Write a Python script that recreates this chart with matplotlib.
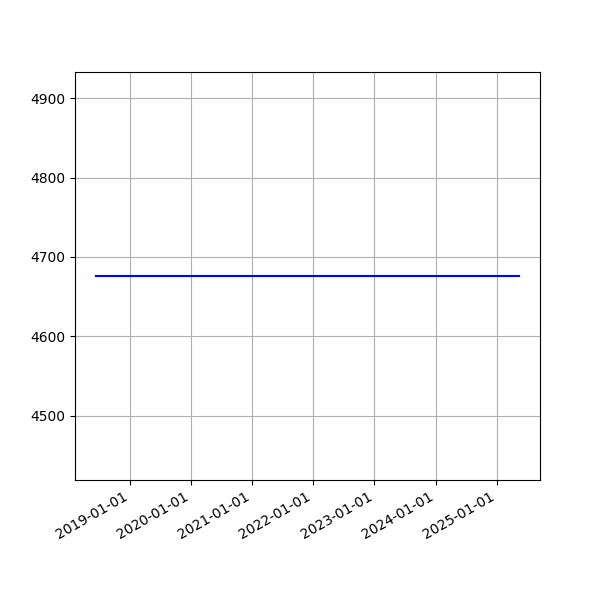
import pandas as pd
import matplotlib
matplotlib.use("Agg")
import matplotlib.pyplot as plt
import matplotlib.dates as mdates

# data: a flat series
dates = ["2018-06-15", "2019-06-01", "2020-06-01", "2021-06-01",
         "2022-06-01", "2023-06-01", "2024-06-01", "2025-05-12"]
values = [4676, 4676, 4676, 4676, 4676, 4676, 4676, 4676]

df = pd.DataFrame({"Date": pd.to_datetime(dates), "Value": values})

fig, ax = plt.subplots(figsize=(6, 6), dpi=100)
ax.plot(df["Date"], df["Value"], color="blue")
ax.grid(True)
ax.xaxis.set_major_locator(mdates.YearLocator())
ax.xaxis.set_major_formatter(mdates.DateFormatter("%Y-%m-%d"))
fig.autofmt_xdate()

fig.savefig("out.png", dpi=100)
